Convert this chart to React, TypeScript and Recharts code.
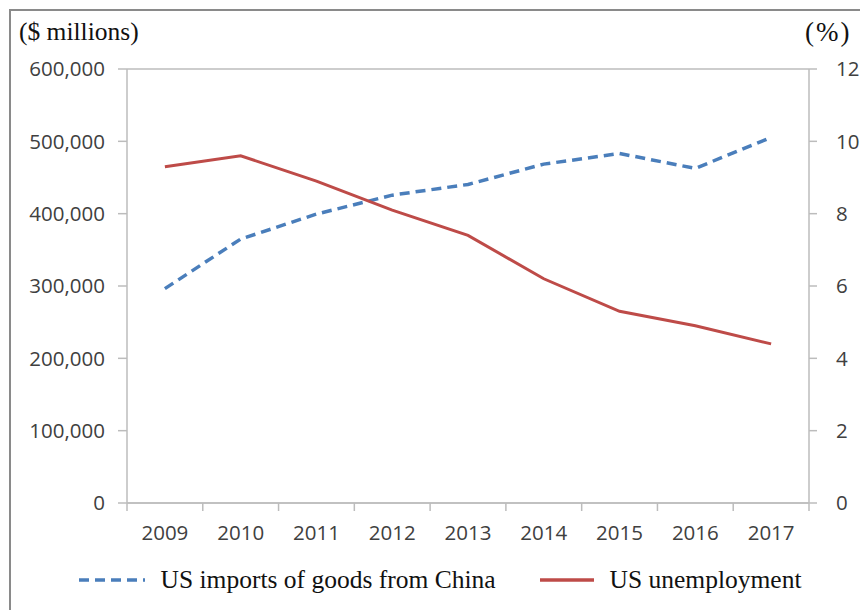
import { LineChart, Line, XAxis, YAxis, CartesianGrid, Legend } from "recharts";

const years = ["2009", "2010", "2011", "2012", "2013", "2014", "2015", "2016", "2017"];
// US imports of goods from China, $ millions
const imports = [296400, 364900, 399400, 425600, 440400, 468500, 483200, 462600, 505500];
// US unemployment rate, %
const unemployment = [9.3, 9.6, 8.9, 8.1, 7.4, 6.2, 5.3, 4.9, 4.4];
const leftTicks = [0, 100000, 200000, 300000, 400000, 500000, 600000];
const rightTicks = [0, 2, 4, 6, 8, 10, 12];

const data = years.map((year, i) => ({
  year,
  imports: imports[i],
  unemployment: unemployment[i],
}));

const BLUE = "#4a7ebb";
const RED = "#be4b48";
const AXIS = "#bcbcbc";
const TICK_FONT = "'Open Sans', sans-serif";
const SERIF = "'Liberation Serif', serif";
// half of one category slot (plot is 682px wide, 9 categories)
const HALF = 682 / 18;

const tickText = { fill: "#404040", fontSize: 20.5, fontFamily: TICK_FONT };

function YearTick(props: any) {
  const { x, y, payload, index, visibleTicksCount } = props;
  const last = index === visibleTicksCount - 1;
  return (
    <g>
      <line x1={x - HALF} x2={x - HALF} y1={y} y2={y + 8} stroke={AXIS} strokeWidth={1.5} />
      {last && <line x1={x + HALF} x2={x + HALF} y1={y} y2={y + 8} stroke={AXIS} strokeWidth={1.5} />}
      <text x={x} y={y + 37} textAnchor="middle" {...tickText}>
        {payload.value}
      </text>
    </g>
  );
}

function LegendBox() {
  const item = (color: string, dash: string | undefined, label: string, w: number, gap: number) => (
    <div style={{ display: "flex", alignItems: "center", marginRight: gap }}>
      <svg width={w} height={10} style={{ marginRight: 16 }}>
        <line x1={0} x2={w} y1={5} y2={5} stroke={color} strokeWidth={3.5} strokeDasharray={dash} />
      </svg>
      <span style={{ fontFamily: SERIF, fontSize: 25.5, color: "#111" }}>{label}</span>
    </div>
  );
  return (
    <div style={{ display: "flex", justifyContent: "center", alignItems: "center", paddingLeft: 20, height: 50 }}>
      {item(BLUE, "10 6", "US imports of goods from China", 66, 44)}
      {item(RED, undefined, "US unemployment", 54, 0)}
    </div>
  );
}

export default function App() {
  return (
    <div style={{ position: "absolute", left: 0, top: 0, width: 860, height: 610, background: "#fff", overflow: "hidden" }}>
      <div
        style={{
          position: "absolute",
          left: 9,
          top: 9,
          width: 900,
          height: 700,
          borderLeft: "2px solid #8a8a8a",
          borderTop: "2px solid #8a8a8a",
        }}
      />
      <div style={{ position: "absolute", left: 19, top: 17, fontFamily: SERIF, fontSize: 25.5, color: "#111" }}>
        ($ millions)
      </div>
      <div
        style={{
          position: "absolute",
          left: 805,
          top: 17,
          fontFamily: SERIF,
          fontSize: 27,
          letterSpacing: 2,
          color: "#111",
        }}
      >
        (%)
      </div>
      <div style={{ position: "absolute", left: 0, top: 0 }}>
        <LineChart width={860} height={610} data={data} margin={{ top: 69, right: 0, bottom: 5, left: 0 }}>
          <CartesianGrid vertical={false} stroke={AXIS} strokeWidth={1.5} />
          <XAxis
            dataKey="year"
            padding={{ left: HALF, right: HALF }}
            axisLine={{ stroke: AXIS, strokeWidth: 1.5 }}
            tickLine={false}
            tickSize={0}
            tickMargin={0}
            height={52}
            interval={0}
            tick={<YearTick />}
          />
          <YAxis
            yAxisId="left"
            width={127}
            domain={[0, 600000]}
            ticks={leftTicks}
            interval={0}
            axisLine={{ stroke: AXIS, strokeWidth: 1.5 }}
            tickLine={{ stroke: AXIS, strokeWidth: 1.5 }}
            tickSize={9}
            tickMargin={13}
            tick={tickText}
            tickFormatter={(v) => Number(v).toLocaleString("en-US")}
          />
          <YAxis
            yAxisId="right"
            orientation="right"
            width={51}
            domain={[0, 12]}
            ticks={rightTicks}
            interval={0}
            axisLine={{ stroke: AXIS, strokeWidth: 1.5 }}
            tickLine={{ stroke: AXIS, strokeWidth: 1.5 }}
            tickSize={8}
            tickMargin={19}
            tick={{ ...tickText, textAnchor: "start" }}
          />
          <Legend verticalAlign="bottom" height={50} content={<LegendBox />} />
          <Line
            yAxisId="left"
            type="linear"
            dataKey="imports"
            stroke={BLUE}
            strokeWidth={3.5}
            strokeDasharray="10 6"
            dot={false}
            isAnimationActive={false}
          />
          <Line
            yAxisId="right"
            type="linear"
            dataKey="unemployment"
            stroke={RED}
            strokeWidth={3}
            dot={false}
            isAnimationActive={false}
          />
        </LineChart>
      </div>
    </div>
  );
}
